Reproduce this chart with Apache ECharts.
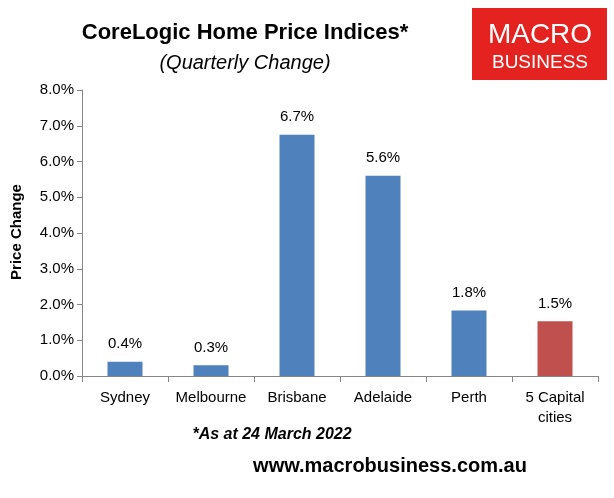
<!DOCTYPE html>
<html><head><meta charset="utf-8">
<script src="https://cdn.jsdelivr.net/npm/echarts@6/dist/echarts.min.js"></script>
<style>html,body{margin:0;padding:0;background:#fff}#c{width:614px;height:498px}</style>
</head><body><div id="c"></div>
<script>
const categories = ['Sydney','Melbourne','Brisbane','Adelaide','Perth','5 Capital\ncities'];
const values = [0.4, 0.3, 6.75, 5.6, 1.83, 1.53];
const labels = ['0.4%','0.3%','6.7%','5.6%','1.8%','1.5%'];
const colors = ['#4F81BD','#4F81BD','#4F81BD','#4F81BD','#4F81BD','#C0504D'];
const chart = echarts.init(document.getElementById('c'));
chart.setOption({
  animation:false,
  grid:{left:82,right:16,top:90,bottom:122},
  xAxis:{type:'category',data:categories,
    axisLine:{lineStyle:{color:'#868686'}},
    axisTick:{show:true,alignWithLabel:false,length:6,lineStyle:{color:'#868686'}},
    axisLabel:{interval:0,color:'#000',fontFamily:'Liberation Sans',fontSize:15,margin:12,lineHeight:20}},
  yAxis:{type:'value',min:0,max:8,interval:1,
    axisLine:{show:true,lineStyle:{color:'#868686'}},
    axisTick:{show:true,lineStyle:{color:'#868686'}},
    splitLine:{show:false},
    axisLabel:{formatter:v=>v.toFixed(1)+'%',color:'#000',fontFamily:'Liberation Sans',fontSize:15}},
  series:[{type:'bar',barWidth:35,
    data:values.map((v,i)=>({value:v,itemStyle:{color:colors[i]},
      label:{show:true,position:'top',distance:10,formatter:labels[i],color:'#000',fontFamily:'Liberation Sans',fontSize:15}}))}],
  graphic:[
    {type:'text',style:{text:'CoreLogic Home Price Indices*',x:245,y:33,align:'center',verticalAlign:'middle',font:'bold 22px "Liberation Sans"',fill:'#000'}},
    {type:'text',style:{text:'(Quarterly Change)',x:245,y:63,align:'center',verticalAlign:'middle',font:'italic 20px "Liberation Sans"',fill:'#000'}},
    {type:'text',x:17,y:232,rotation:Math.PI/2,style:{text:'Price Change',x:0,y:0,align:'center',verticalAlign:'middle',font:'bold 15px "Liberation Sans"',fill:'#000'}},
    {type:'rect',shape:{x:472,y:8,width:135,height:72},style:{fill:'#E42320'}},
    {type:'text',style:{text:'MACRO',x:540,y:35,align:'center',verticalAlign:'middle',font:'28px "Liberation Sans"',fill:'#fff'}},
    {type:'text',style:{text:'BUSINESS',x:540,y:63,align:'center',verticalAlign:'middle',font:'19px "Liberation Sans"',fill:'#fff'}},
    {type:'text',style:{text:'*As at 24 March 2022',x:272,y:435,align:'center',verticalAlign:'middle',font:'italic bold 16px "Liberation Sans"',fill:'#000'}},
    {type:'text',style:{text:'www.macrobusiness.com.au',x:390,y:466,align:'center',verticalAlign:'middle',font:'bold 20px "Liberation Sans"',fill:'#000'}}
  ]
});
</script></body></html>
